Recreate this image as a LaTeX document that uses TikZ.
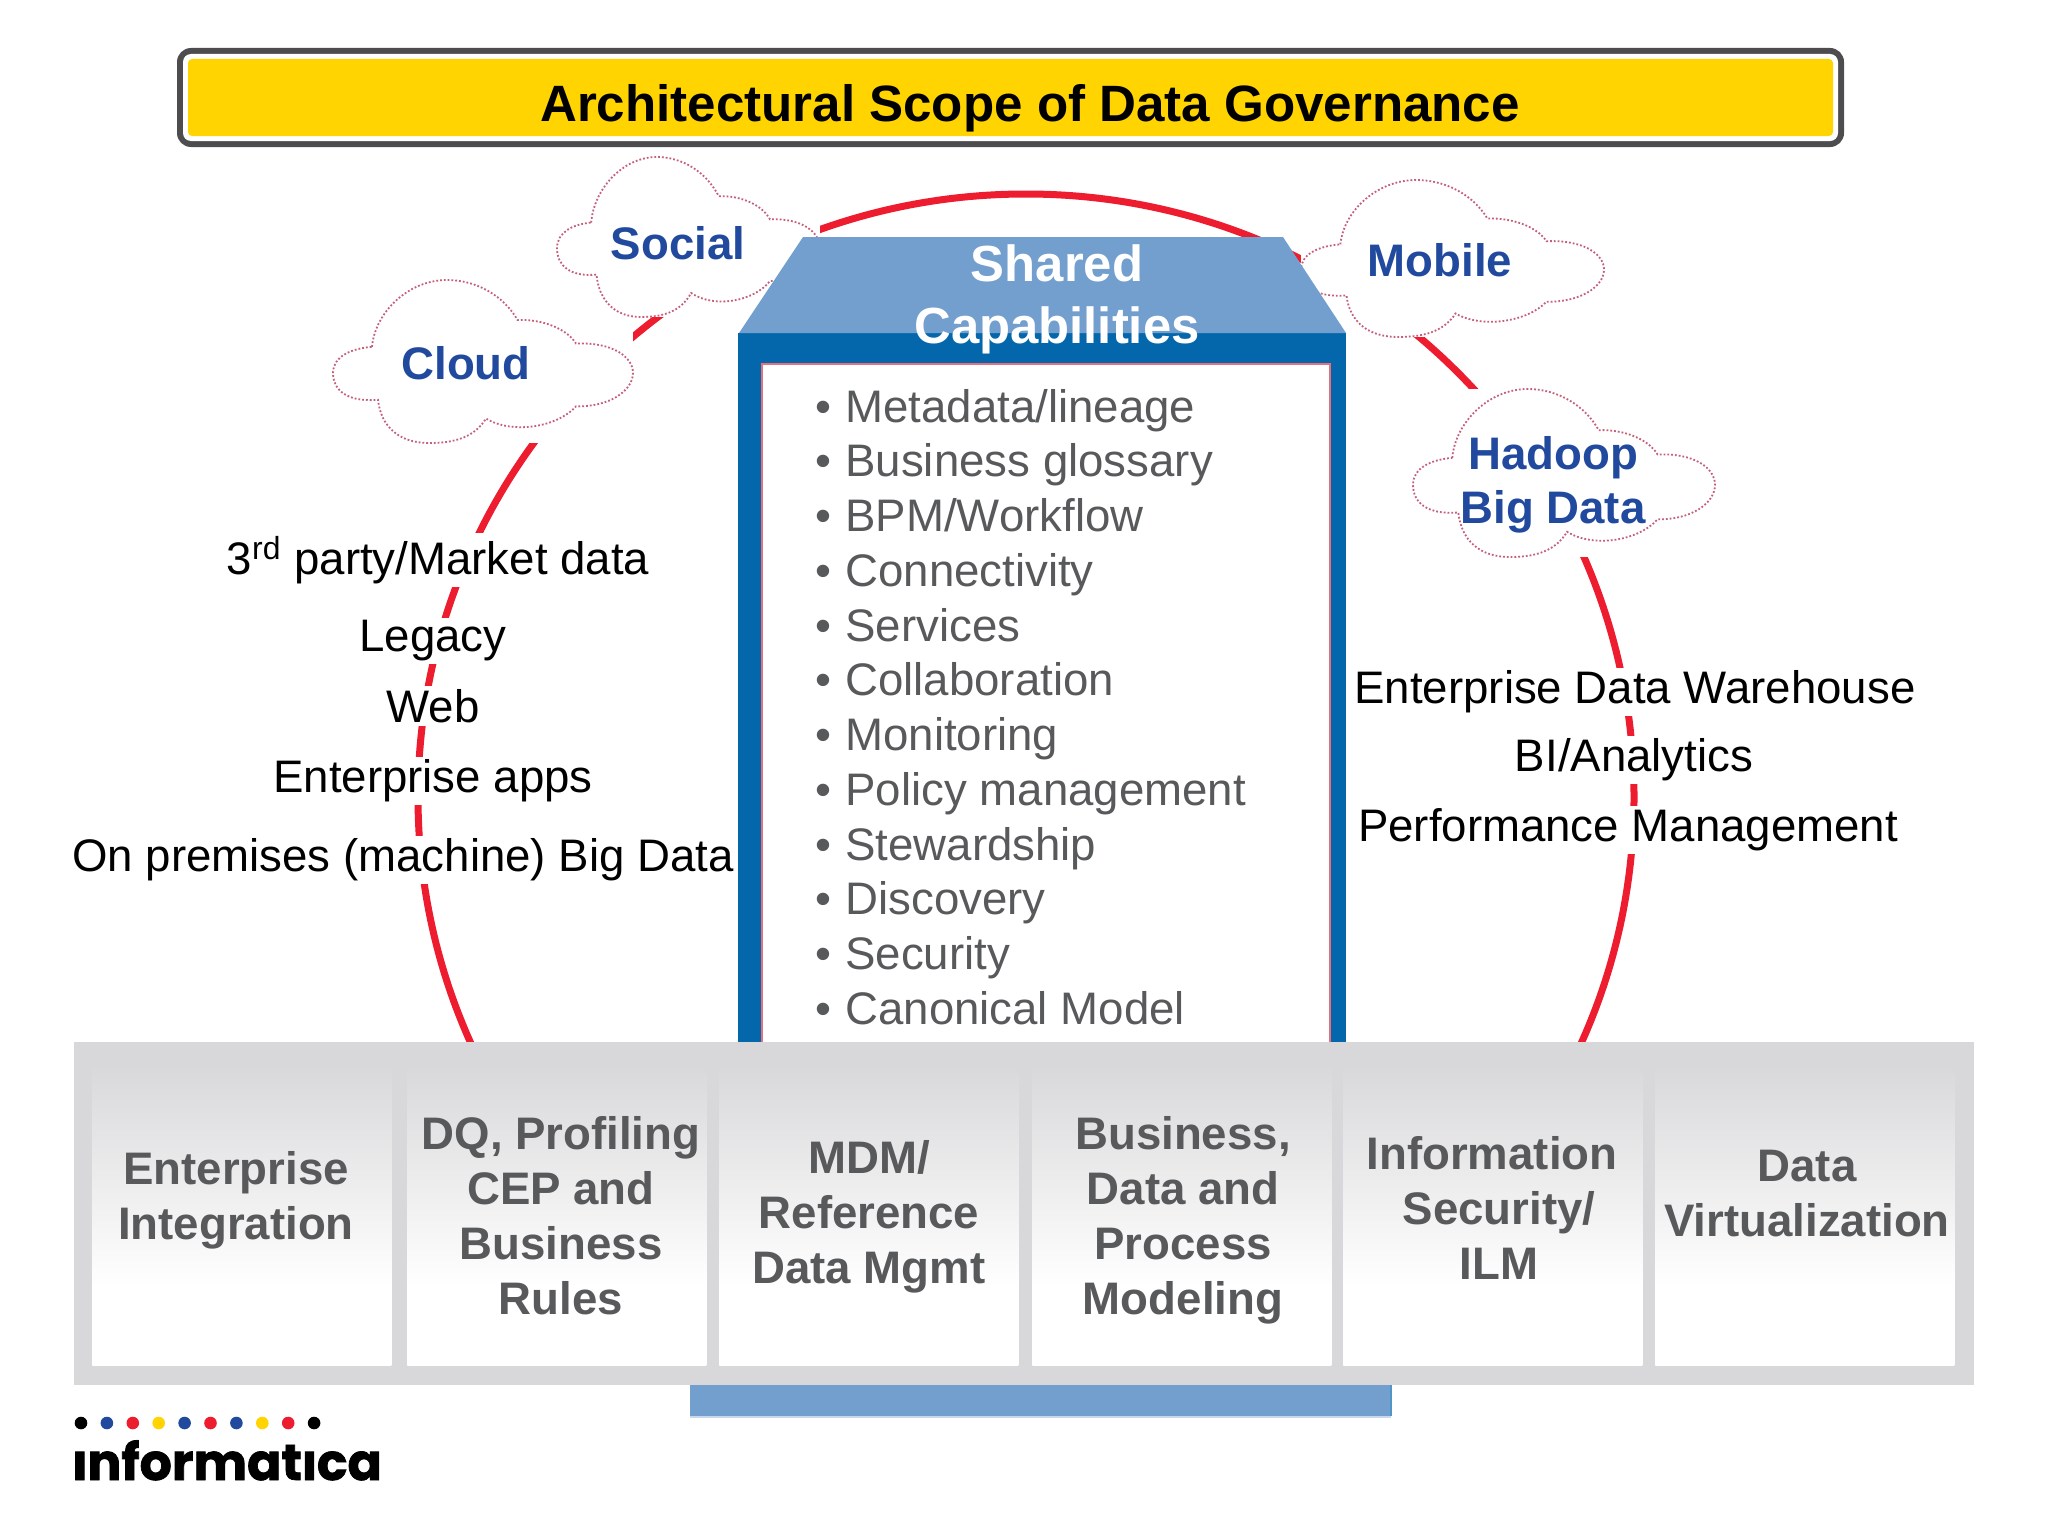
\documentclass[tikz,border=0pt]{standalone}
\usepackage{fontspec}
\setmainfont{Liberation Sans}
\newfontfamily\logofont{Poppins}[BoldFeatures={FakeBold=1.5}]
\definecolor{ringred}{HTML}{ED1C2E}
\definecolor{bandyellow}{HTML}{FFD400}
\definecolor{banddark}{HTML}{4D4D4F}
\definecolor{framegray}{HTML}{D8D8DA}
\definecolor{textgray}{HTML}{58595B}
\definecolor{pillarblue}{HTML}{0467AC}
\definecolor{roofblue}{HTML}{739FCF}
\definecolor{cloudblue}{HTML}{214A9E}
\definecolor{clouddots}{HTML}{C4607A}
\definecolor{linepink}{HTML}{E8707C}
\pgfdeclareverticalshading{panelfade}{100bp}{color(0bp)=(white); color(38bp)=(white); color(75bp)=(framegray); color(100bp)=(framegray)}
\newcommand{\logoi}{\setbox0\hbox{i}i\llap{\textcolor{white}{\rule[0.57em]{\wd0}{0.35em}}}}
\tikzstyle{cloudbox}=[fill=white,inner sep=0pt,anchor=north west]
\tikzstyle{cloudline}=[draw=clouddots,densely dotted,line width=0.9pt]
\tikzstyle{cloudtext}=[text=cloudblue,font=\fontsize{22.8}{27}\selectfont\bfseries,align=center]
\tikzstyle{sourcetext}=[fill=white,inner sep=1.5pt,font=\fontsize{22.8}{28}\selectfont]
\tikzstyle{itemtext}=[anchor=base west,inner sep=0pt,text=textgray,font=\fontsize{22.8}{28}\selectfont]
\tikzstyle{paneltext}=[text=textgray,font=\fontsize{22.8}{27.5}\selectfont\bfseries,align=center]
\tikzstyle{panelbox}=[shading=panelfade,inner sep=0pt,anchor=north west,minimum width=149.5pt,minimum height=151pt]
\begin{document}
\begin{tikzpicture}[x=0.5pt,y=-0.5pt]
        \useasboundingbox (0,0) rectangle (2048,1536);
        \fill[banddark,rounded corners=7pt] (177,48) rectangle (1844,147);
        \fill[white,rounded corners=4pt] (183,54) rectangle (1838,141);
        \fill[bandyellow,rounded corners=2pt] (188,59) rectangle (1833,136);
        \node[font=\fontsize{25.55}{30}\selectfont\bfseries] (title) at (1030,108) {Architectural Scope of Data Governance};
        \draw[ringred,line width=3.5pt] (1026,797) ellipse (608 and 603);
        \foreach \n/\x/\y/\w/\h in {cloud/333/280/300/163,social/557/157/263/160,mobile/1301/180/303/157,hadoop/1413/389/302/168}{
          \node[cloudbox,minimum width=\w*0.5pt,minimum height=\h*0.5pt] (\n) at (\x,\y) {};
          \begin{scope}[shift={(\x,\y)},xscale=\w,yscale=\h]
            \draw[cloudline] (.13,.41) .. controls (.14,.2) and (.25,0) .. (.38,0)
              .. controls (.48,0) and (.57,.1) .. (.615,.245)
              .. controls (.7,.24) and (.78,.3) .. (.81,.39)
              .. controls (.93,.38) and (1,.47) .. (1,.57)
              .. controls (1,.68) and (.92,.78) .. (.81,.775)
              .. controls (.75,.9) and (.6,.95) .. (.51,.85)
              .. controls (.47,.97) and (.4,1) .. (.32,1)
              .. controls (.22,1) and (.16,.9) .. (.15,.735)
              .. controls (.05,.75) and (0,.68) .. (0,.57)
              .. controls (0,.47) and (.06,.42) .. (.13,.41) -- cycle;
          \end{scope}
        }
        \node[cloudtext] (cloudlabel) at (466,363) {Cloud};
        \node[cloudtext] (sociallabel) at (678,243) {Social};
        \node[cloudtext] (mobilelabel) at (1440,260) {Mobile};
        \node[cloudtext] (hadooplabel) at (1553,485) {Hadoop\\Big Data};
        \fill[roofblue] (690,1385) rectangle (1391,1416);
        \draw[pillarblue!70,line width=0.7pt] (1391,1385) -- (1391,1416);
        \draw[roofblue!40,line width=0.7pt] (690,1417) -- (1391,1417);
        \fill[pillarblue] (738,333) rectangle (1346,1042);
        \fill[white,draw=linepink,line width=0.7pt] (762,364) rectangle (1330,1050);
        \fill[roofblue] (739,333) -- (803,237) -- (1283,237) -- (1346,333) -- cycle;
        \node[text=white,align=center,font=\fontsize{25.4}{31}\selectfont\bfseries] (roof) at (1057,299) {Shared\\Capabilities};
        \foreach \lab [count=\i from 0] in {Metadata/lineage,Business glossary,BPM/Workflow,Connectivity,Services,Collaboration,Monitoring,Policy management,Stewardship,Discovery,Security,Canonical Model}{
          \node[itemtext] (item\i) at (815,{422+54.75*\i}) {\makebox[15pt][l]{\textbullet}\lab};
        }
        \fill[framegray] (74,1042) rectangle (1974,1385);
        \foreach \i/\x/\tx/\ty/\lab in {1/92/236/1200/{Enterprise\\Integration},2/407/561/1216/{DQ, Profiling\\CEP and\\Business\\Rules},3/719/869/1217/{MDM/\\Reference\\Data Mgmt},4/1032/1183/1220/{Business,\\Data and\\Process\\Modeling},5/1343/1499/1208/{Information\kern7pt\\Security/\\ILM},6/1655/1807/1194/{Data\\Virtualization}}{
          \node[panelbox] (panel\i) at (\x,1063) {};
          \node[paneltext] (paneltext\i) at (\tx,\ty) {\lab};
        }
        \node[sourcetext] (thirdparty) at (438,560) {3\textsuperscript{rd} party/Market data};
        \node[sourcetext] (legacy) at (433,641) {Legacy};
        \node[sourcetext] (web) at (433,706) {Web};
        \node[sourcetext] (apps) at (433,781) {Enterprise apps};
        \node[sourcetext] (premises) at (403,860) {On premises (machine) Big Data};
        \node[sourcetext] (warehouse) at (1635,692) {Enterprise Data Warehouse};
        \node[sourcetext] (analytics) at (1634,760) {BI/Analytics};
        \node[sourcetext] (performance) at (1628,830) {Performance Management};
        \foreach \c [count=\i from 0] in {black,cloudblue,ringred,bandyellow,cloudblue,ringred,cloudblue,bandyellow,ringred,black}{
          \fill[\c] ({81+25.9*\i},1423) circle (6.3);
        }
        \node[inner sep=0pt,anchor=base west,font=\logofont\fontsize{25.3}{30}\selectfont\bfseries] (logo) at (72,1480) {\logoi nformat\logoi ca};
\end{tikzpicture}
\end{document}
